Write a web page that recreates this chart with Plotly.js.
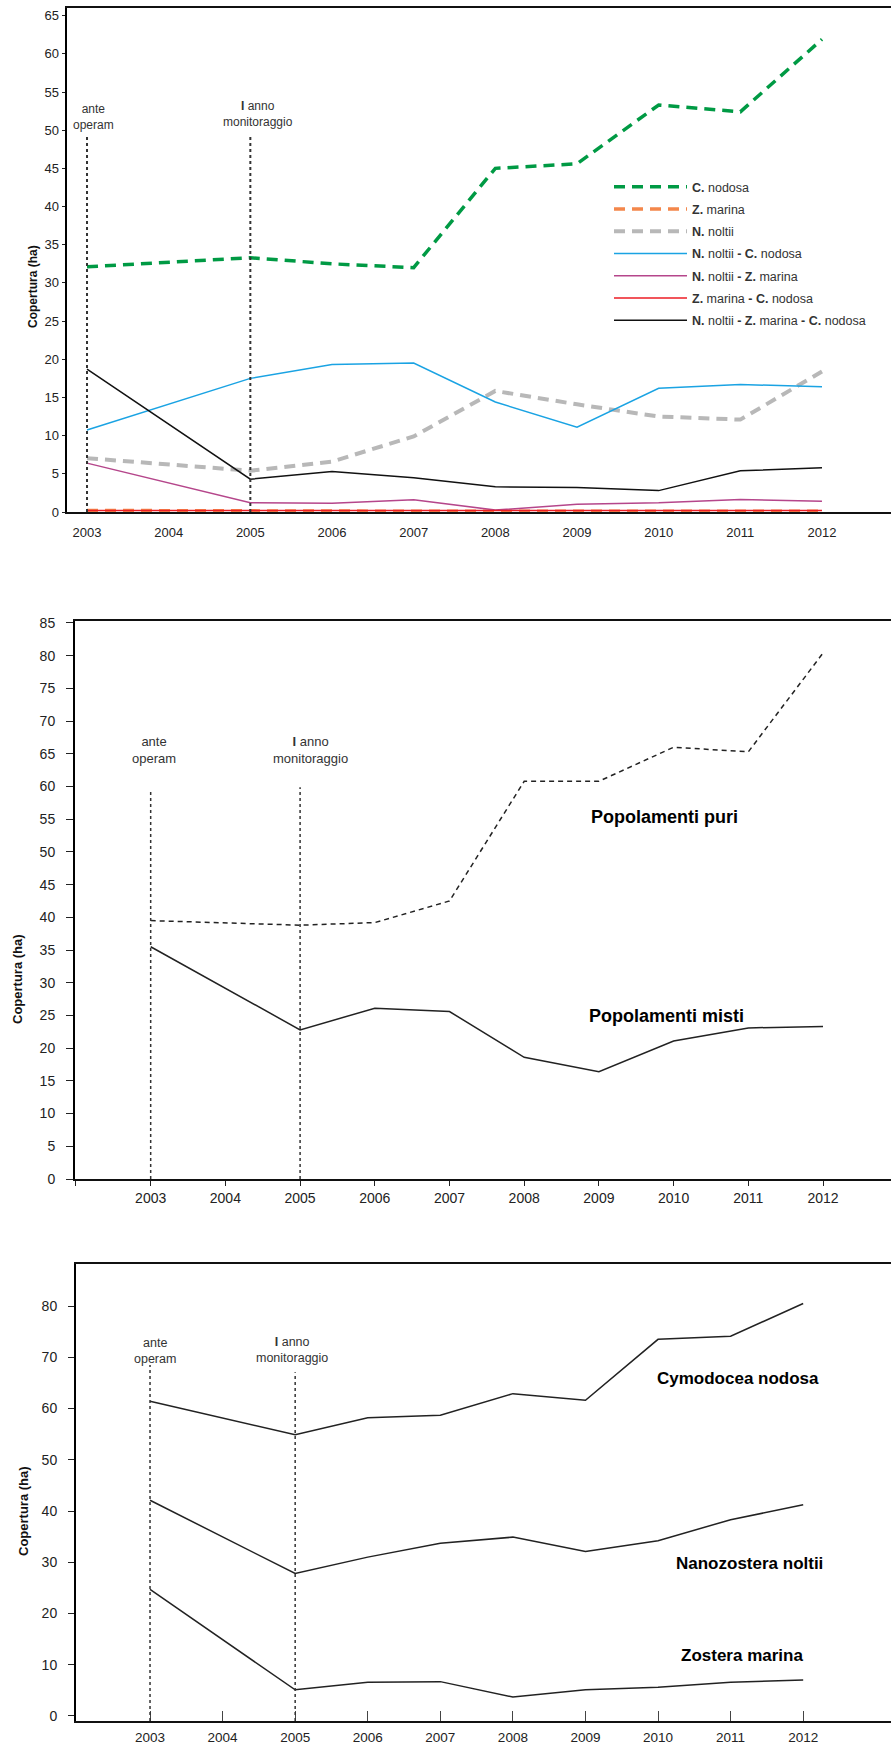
<!DOCTYPE html>
<html>
<head>
<meta charset="utf-8">
<script src="https://cdn.plot.ly/plotly-3.0.1.min.js"></script>
<style>
  html, body { margin: 0; padding: 0; background: #fff; }
  #chart { width: 891px; height: 1745px; }
</style>
</head>
<body>
<div id="chart"></div>
<script>
// ---------- DATA ----------
const years = [2003, 2005, 2006, 2007, 2008, 2009, 2010, 2011, 2012];
const tickYears = [2003, 2004, 2005, 2006, 2007, 2008, 2009, 2010, 2011, 2012];
const tickYearLabels = ['2003', '2004', '2005', '2006', '2007', '2008', '2009', '2010', '2011', '2012'];
const tickYears2 = [2002, 2003, 2004, 2005, 2006, 2007, 2008, 2009, 2010, 2011, 2012];
const tickYearLabels2 = ['', '2003', '2004', '2005', '2006', '2007', '2008', '2009', '2010', '2011', '2012'];

// Panel 1 - single and mixed populations (ha)
const seriesNames1 = ['C. nodosa', 'Z. marina', 'N. noltii', 'N. noltii - C. nodosa',
  'N. noltii - Z. marina', 'Z. marina - C. nodosa', 'N. noltii - Z. marina - C. nodosa'];
const cNodosa   = [32.1, 33.3, 32.5, 32.0, 45.0, 45.6, 53.3, 52.4, 61.9];
const zMarina   = [0.2, 0.1, 0.1, 0.1, 0.1, 0.1, 0.1, 0.1, 0.1];
const nNoltii   = [7.05, 5.4, 6.6, 9.9, 15.85, 14.1, 12.5, 12.1, 18.4];
const nnCn      = [10.75, 17.5, 19.3, 19.5, 14.4, 11.1, 16.2, 16.7, 16.4];
const nnZm      = [6.4, 1.2, 1.15, 1.6, 0.25, 1.0, 1.2, 1.65, 1.4];
const zmCn      = [0.2, 0.2, 0.2, 0.2, 0.2, 0.2, 0.2, 0.2, 0.2];
const nnZmCn    = [18.7, 4.3, 5.3, 4.5, 3.3, 3.2, 2.8, 5.4, 5.8];

// Panel 2 - pure vs mixed populations (ha)
const puri  = [39.5, 38.8, 39.2, 42.5, 60.8, 60.8, 66.0, 65.3, 80.4];
const misti = [35.5, 22.8, 26.1, 25.6, 18.6, 16.4, 21.1, 23.1, 23.3];

// Panel 3 - per species (ha)
const cymodocea   = [61.4, 54.9, 58.2, 58.7, 62.9, 61.6, 73.5, 74.1, 80.5];
const nanozostera = [42.1, 27.8, 31.0, 33.7, 34.9, 32.1, 34.2, 38.3, 41.2];
const zostera     = [24.7, 5.1, 6.6, 6.7, 3.7, 5.1, 5.6, 6.6, 7.0];

// ---------- STYLE ----------
const FONT = '"Liberation Sans", Arial, Helvetica, sans-serif';
const W = 891, H = 1745;
const px = v => v / W;
const py = v => (H - v) / H;

const series1 = [cNodosa, zMarina, nNoltii, nnCn, nnZm, zmCn, nnZmCn];
const styles1 = [
  {color: '#009a44', width: 3.5, dash: '11px,7px'},
  {color: '#f4874b', width: 3.5, dash: '11px,7px'},
  {color: '#b8b8b8', width: 4, dash: '11px,7px'},
  {color: '#1aa3e3', width: 1.5, dash: 'solid'},
  {color: '#b5468b', width: 1.5, dash: 'solid'},
  {color: '#ed1c24', width: 1.5, dash: 'solid'},
  {color: '#111111', width: 1.5, dash: 'solid'}
];
const legendNames1 = ['<b>C.</b> nodosa', '<b>Z.</b> marina', '<b>N.</b> noltii',
  '<b>N.</b> noltii <b>-</b> <b>C.</b> nodosa', '<b>N.</b> noltii <b>-</b> <b>Z.</b> marina',
  '<b>Z.</b> marina <b>-</b> <b>C.</b> nodosa', '<b>N.</b> noltii <b>-</b> <b>Z.</b> marina <b>-</b> <b>C.</b> nodosa'];

const traces = [];
series1.forEach((s, i) => {
  traces.push({
    type: 'scatter', mode: 'lines', x: years, y: s, name: legendNames1[i],
    legendgroup: 'g' + i,
    xaxis: 'x', yaxis: 'y', line: styles1[i], cliponaxis: false, showlegend: true
  });
});
traces.push({type: 'scatter', mode: 'lines', x: years, y: puri, name: 'Popolamenti puri',
  xaxis: 'x2', yaxis: 'y2', line: {color: '#222', width: 1.5, dash: '5px,4px'}, showlegend: false});
traces.push({type: 'scatter', mode: 'lines', x: years, y: misti, name: 'Popolamenti misti',
  xaxis: 'x2', yaxis: 'y2', line: {color: '#222', width: 1.5}, showlegend: false});
[cymodocea, nanozostera, zostera].forEach((s, i) => {
  traces.push({type: 'scatter', mode: 'lines', x: years, y: s,
    name: ['Cymodocea nodosa', 'Nanozostera noltii', 'Zostera marina'][i],
    xaxis: 'x3', yaxis: 'y3', line: {color: '#222', width: 1.5}, showlegend: false});
});

function xax(domain, range, anchor, vals, labels, extra) {
  return Object.assign({
    domain: domain, range: range, anchor: anchor, tickmode: 'array',
    tickvals: vals, ticktext: labels, showgrid: false, zeroline: false,
    showline: true, linecolor: '#111', linewidth: 2, mirror: true,
    tickfont: {family: FONT, size: 14, color: '#222'}, fixedrange: true
  }, extra);
}
function yax(domain, range, anchor, dtick, extra) {
  return Object.assign({
    domain: domain, range: range, anchor: anchor, tick0: 0, dtick: dtick,
    showgrid: false, zeroline: false, showline: true, linecolor: '#000', linewidth: 2.5,
    ticks: 'outside', tickcolor: '#222', tickwidth: 1,
    tickfont: {family: FONT, size: 14, color: '#222'}, fixedrange: true
  }, extra);
}

const layout = {
  width: W, height: H,
  margin: {l: 0, r: 0, t: 0, b: 0},
  paper_bgcolor: '#fff', plot_bgcolor: 'rgba(0,0,0,0)',
  font: {family: FONT, color: '#222'},
  showlegend: true,
  legend: {
    x: px(609), xanchor: 'left', y: py(172), yanchor: 'top',
    bgcolor: 'rgba(0,0,0,0)', itemwidth: 73,
    font: {family: FONT, size: 12.5, color: '#333'},
    tracegroupgap: 3
  },
  xaxis: xax([px(67), 1], [2002.755, 2012.845], 'y', tickYears, tickYearLabels,
    {ticks: '', ticklabelstandoff: 7, tickfont: {family: FONT, size: 13, color: '#222'}}),
  yaxis: yax([py(512), py(8)], [0, 66], 'x', 5,
    {ticklen: 3, tickfont: {family: FONT, size: 13, color: '#222'}}),
  xaxis2: xax([px(75), 1], [2001.987, 2012.91], 'y2', tickYears2, tickYearLabels2,
    {ticks: 'outside', ticklen: 5, tickcolor: '#222', ticklabelstandoff: 0}),
  yaxis2: yax([py(1179), py(621)], [0, 85.3], 'x2', 5,
    {ticklen: 7, ticklabelstandoff: 8, linewidth: 2}),
  xaxis3: xax([px(76), 1], [2001.98, 2013.21], 'y3', tickYears, tickYearLabels,
    {ticks: 'inside', ticklen: 10, tickcolor: '#444', ticklabelstandoff: 3,
     tickfont: {family: FONT, size: 13.5, color: '#222'}}),
  yaxis3: yax([py(1721), py(1264)], [-0.98, 88.2], 'x3', 10,
    {ticklen: 6, ticklabelstandoff: 8, linewidth: 2}),
  shapes: [
    // panel 1 dotted markers
    {type: 'line', xref: 'x', yref: 'y', x0: 2003, x1: 2003, y0: 0, y1: 49.2, line: {color: '#333', width: 2, dash: '3px,3px'}},
    {type: 'line', xref: 'x', yref: 'y', x0: 2005, x1: 2005, y0: 0, y1: 49.2, line: {color: '#333', width: 2, dash: '3px,3px'}},
    // panel 2
    {type: 'line', xref: 'x2', yref: 'y2', x0: 2003, x1: 2003, y0: 0, y1: 59.5, line: {color: '#333', width: 1.5, dash: '3px,3px'}},
    {type: 'line', xref: 'x2', yref: 'y2', x0: 2005, x1: 2005, y0: 0, y1: 59.9, line: {color: '#333', width: 1.5, dash: '3px,3px'}},
    // panel 3
    {type: 'line', xref: 'x3', yref: 'y3', x0: 2003, x1: 2003, y0: -0.98, y1: 68.5, line: {color: '#333', width: 1.5, dash: '3px,3px'}},
    {type: 'line', xref: 'x3', yref: 'y3', x0: 2005, x1: 2005, y0: -0.98, y1: 67.1, line: {color: '#333', width: 1.5, dash: '3px,3px'}}
  ],
  annotations: []
};

function ann(text, x, y, size, opts) {
  return Object.assign({
    text: text, xref: 'paper', yref: 'paper', x: px(x), y: py(y),
    xanchor: 'center', yanchor: 'middle', showarrow: false,
    font: {family: FONT, size: size, color: '#333'}
  }, opts || {});
}

layout.annotations.push(
  ann('ante<br>operam', 93, 116.5, 12),
  ann('<b>I</b> anno<br>monitoraggio', 258, 114, 12),
  ann('<b>Copertura (ha)</b>', 33, 287, 12, {textangle: -90, font: {family: FONT, size: 12, color: '#111'}}),

  ann('ante<br>operam', 154, 750, 13),
  ann('<b>I</b> anno<br>monitoraggio', 310, 750, 13),
  ann('<b>Popolamenti puri</b>', 664, 817, 18, {font: {family: FONT, size: 18, color: '#000'}}),
  ann('<b>Popolamenti misti</b>', 666, 1016, 18, {font: {family: FONT, size: 18, color: '#000'}}),
  ann('<b>Copertura (ha)</b>', 17, 979, 13, {textangle: -90, font: {family: FONT, size: 13, color: '#111'}}),

  ann('ante<br>operam', 155, 1351, 12.5),
  ann('<b>I</b> anno<br>monitoraggio', 292, 1350, 12.5),
  ann('<b>Cymodocea nodosa</b>', 738, 1378, 17, {font: {family: FONT, size: 17, color: '#000'}}),
  ann('<b>Nanozostera noltii</b>', 749, 1563, 17, {font: {family: FONT, size: 17, color: '#000'}}),
  ann('<b>Zostera marina</b>', 742, 1655, 17, {font: {family: FONT, size: 17, color: '#000'}}),
  ann('<b>Copertura (ha)</b>', 23, 1511, 13, {textangle: -90, font: {family: FONT, size: 13, color: '#111'}})
);

Plotly.newPlot('chart', traces, layout, {displayModeBar: false, staticPlot: true});
</script>
</body>
</html>
